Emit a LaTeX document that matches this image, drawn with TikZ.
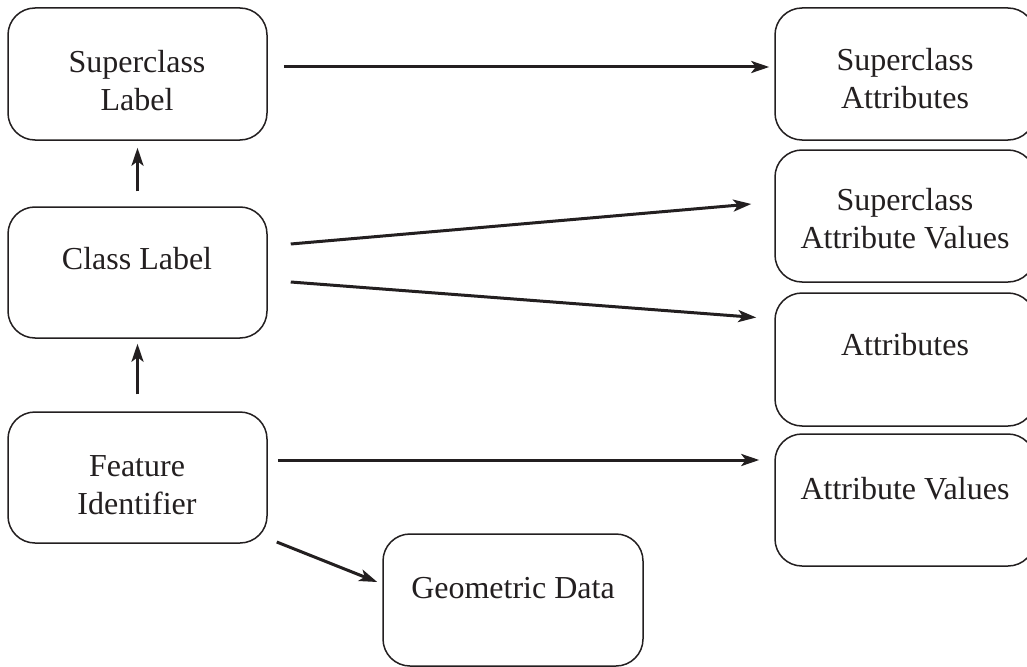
\documentclass[tikz,border=0pt]{standalone}
\usepackage{fontspec}
\setmainfont{Liberation Serif}
\usetikzlibrary{arrows.meta,calc}
\definecolor{ink}{HTML}{231F20}
\tikzset{
  box/.style={draw=ink, line width=1.5pt, rounded corners=27pt, minimum width=259pt, minimum height=132pt, inner sep=0pt},
  txt/.style={align=center, inner sep=0pt, text=ink, font=\fontsize{32}{38}\selectfont},
  arr/.style={draw=ink, line width=3pt, -{Stealth[length=18pt,width=12pt,inset=4.5pt]}}
}
\begin{document}
\begin{tikzpicture}[x=1pt,y=-1pt]
\clip (0,0) rectangle (1027,666);
\fill[white] (0,0) rectangle (1027,666);
% left column
\node[box] (sl) at (137.5,74) {};
\node[box, minimum height=131pt] (cl) at (137.5,272.5) {};
\node[box, minimum height=131pt] (fi) at (137.5,477.5) {};
% right column
\node[box, minimum width=260pt] (sa) at (905,74) {};
\node[box, minimum width=260pt] (sav) at (905,216) {};
\node[box, minimum width=260pt, minimum height=133pt] (at) at (905,359.5) {};
\node[box, minimum width=260pt] (av) at (905,500) {};
% bottom
\node[box, minimum width=260pt] (gd) at (513,600) {};
% texts
\node[txt] (slt) at (137,81) {Superclass\\Label};
\node[txt] (clt) at (137,259) {Class Label};
\node[txt] (fit) at (137,485) {Feature\\Identifier};
\node[txt] (sat) at (905,79) {Superclass\\Attributes};
\node[txt] (savt) at (905,219) {Superclass\\Attribute Values};
\node[txt] (att) at (905,345) {Attributes};
\node[txt] (avt) at (905,489) {Attribute Values};
\node[txt] (gdt) at (513,588) {Geometric Data};
% connectors
\draw[arr] ($(cl.north)+(0,-15)$) -- ($(sl.south)+(0,7)$);
\draw[arr] ($(fi.north)+(0,-17)$) -- ($(cl.south)+(0,5)$);
\draw[arr] ($(sl.east)+(16,-7)$) -- ($(sa.west)+(-5,-7)$);
\draw[arr] ($(cl.east)+(23,-28.5)$) -- ($(sav.west)+(-23,-12)$);
\draw[arr] ($(cl.east)+(23,9.5)$) -- ($(at.west)+(-18,-42)$);
\draw[arr] ($(fi.east)+(10,-17.5)$) -- ($(av.west)+(-15,-40)$);
\draw[arr] ($(fi.east)+(9,64.5)$) -- ($(gd.west)+(-5,-18)$);
\end{tikzpicture}
\end{document}
